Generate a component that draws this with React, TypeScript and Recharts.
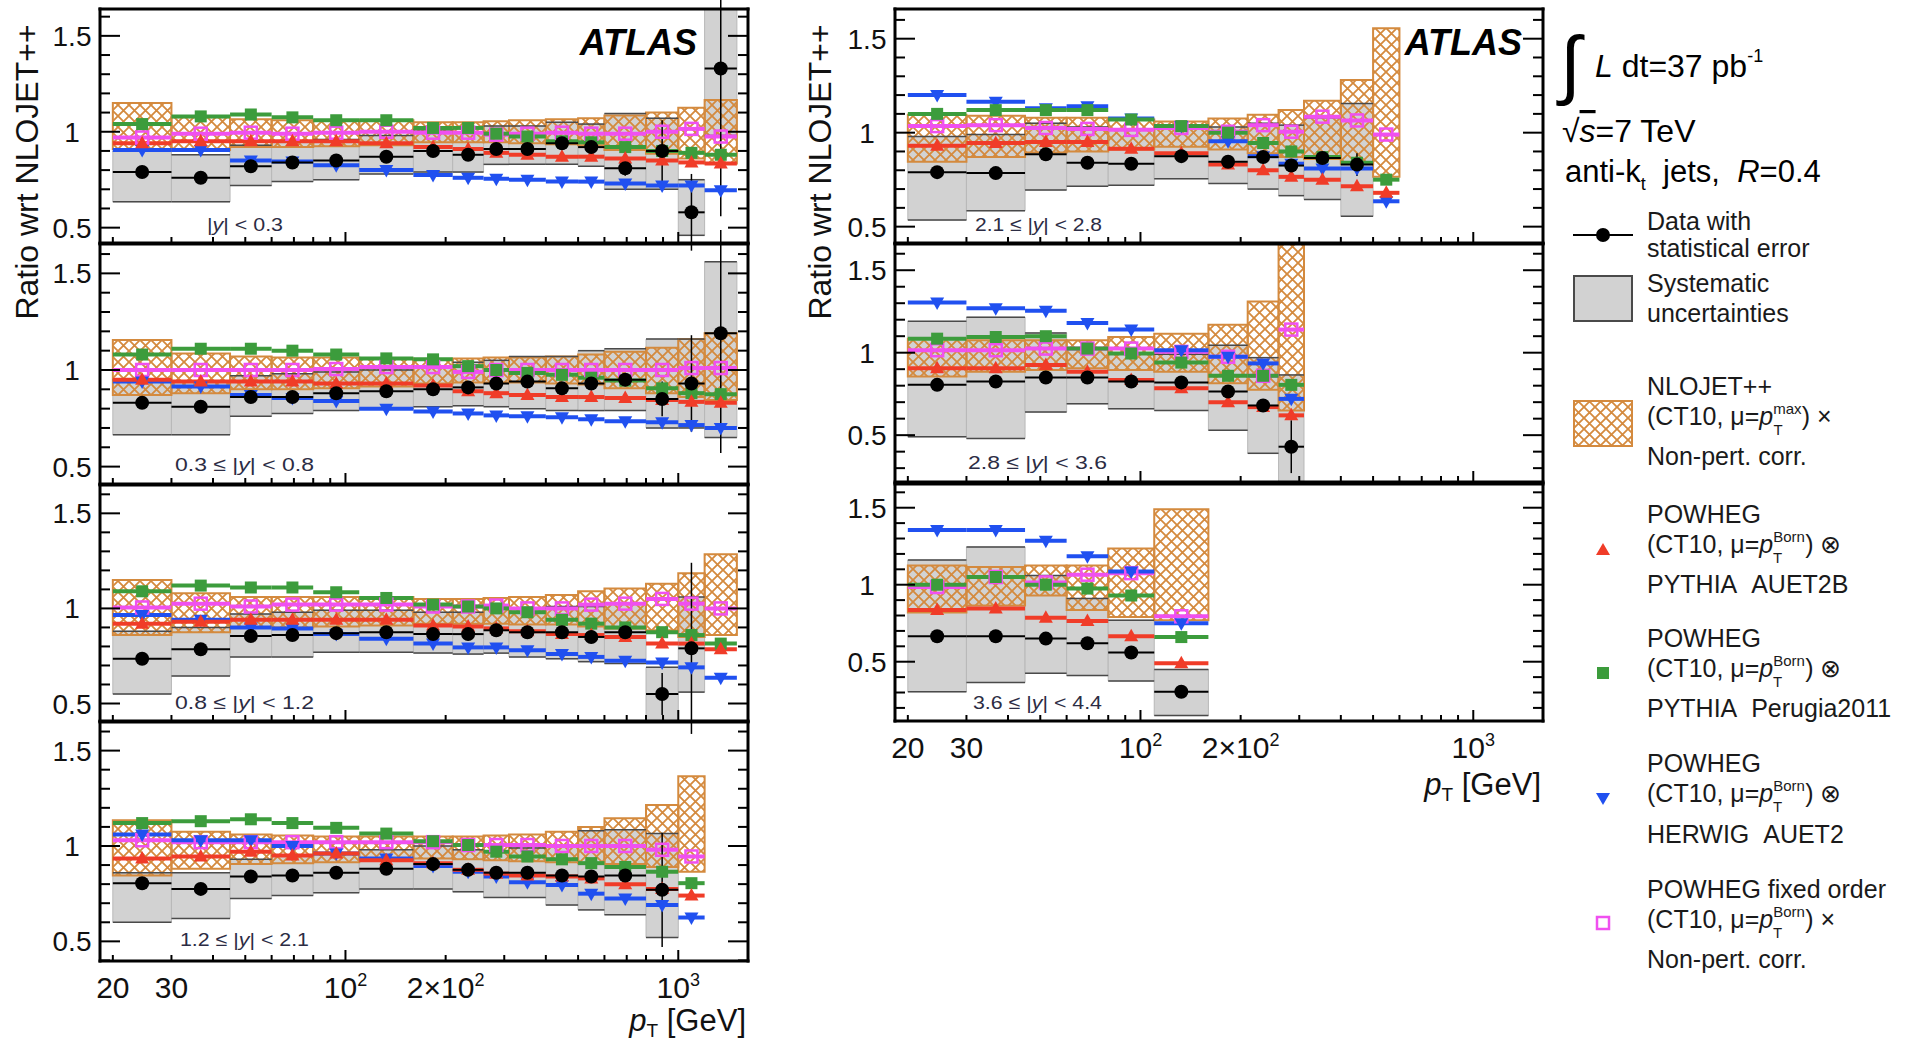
import React from 'react';
import { ComposedChart, Scatter, XAxis, YAxis, ErrorBar, ReferenceArea, ReferenceLine } from 'recharts';

const FONT = '"Liberation Sans", Arial, Helvetica, sans-serif';

// pT bin edges in GeV
const PT_EDGES = [20, 30, 45, 60, 80, 110, 160, 210, 260, 310, 400, 500, 600, 800, 1000, 1200, 1500];

const X_DOMAIN: [number, number] = [18.3, 1620];
const X_TICKS = [20, 30, 40, 50, 60, 70, 80, 90, 100, 200, 300, 400, 500, 600, 700, 800, 900, 1000];
const X_MAJOR = [100, 1000];
const X_TICK_LABELS: Record<number, [string, string]> = {
  20: ['20', ''],
  30: ['30', ''],
  100: ['10', '2'],
  200: ['2×10', '2'],
  1000: ['10', '3'],
};
const Y_TICKS = [0.2, 0.3, 0.4, 0.5, 0.6, 0.7, 0.8, 0.9, 1, 1.1, 1.2, 1.3, 1.4, 1.5, 1.6];

const RED = '#f03c28';
const GREEN = '#3c9c3c';
const BLUE = '#2050f0';
const MAGENTA = '#f050f0';
const ORANGE = '#d48a3e';
const SYS_FILL = '#d2d2d2';
const SYS_LINE = '#4a4a4a';
const SYS_SIDE = '#b8b8b8';

// |y| < 0.3
const Y03_DATA = [0.79, 0.76, 0.82, 0.84, 0.85, 0.87, 0.9, 0.88, 0.91, 0.91, 0.94, 0.92, 0.81, 0.9, 0.58, 1.33];
const Y03_STAT = [0.005, 0.005, 0.005, 0.005, 0.005, 0.005, 0.008, 0.01, 0.012, 0.015, 0.02, 0.03, 0.04, 0.16, 0.2, 0.77];
const Y03_SYS_LO = [0.635, 0.635, 0.72, 0.74, 0.75, 0.78, 0.79, 0.79, 0.83, 0.83, 0.83, 0.82, 0.7, 0.7, 0.46, 0.98];
const Y03_SYS_HI = [0.9, 0.88, 0.93, 0.95, 0.96, 0.98, 1.01, 1.0, 1.03, 1.03, 1.05, 1.04, 1.095, 1.07, 0.75, 1.8];
const Y03_NLO_LO = [0.91, 0.905, 0.92, 0.92, 0.925, 0.93, 0.945, 0.945, 0.945, 0.94, 0.935, 0.93, 0.905, 0.885, 0.86, 0.835];
const Y03_NLO_HI = [1.15, 1.075, 1.065, 1.06, 1.06, 1.06, 1.05, 1.05, 1.055, 1.06, 1.065, 1.07, 1.085, 1.1, 1.125, 1.165];
const Y03_PY_AUET2B = [0.94, 0.95, 0.95, 0.95, 0.95, 0.94, 0.92, 0.91, 0.89, 0.88, 0.87, 0.87, 0.86, 0.85, 0.84, 0.835];
const Y03_PY_P2011 = [1.04, 1.08, 1.09, 1.075, 1.06, 1.06, 1.02, 1.02, 0.99, 0.975, 0.95, 0.945, 0.92, 0.9, 0.89, 0.88];
const Y03_HW_AUET2 = [0.905, 0.905, 0.85, 0.845, 0.825, 0.8, 0.775, 0.76, 0.755, 0.75, 0.74, 0.74, 0.73, 0.72, 0.72, 0.695];
const Y03_FIXED = [0.97, 0.99, 0.995, 0.99, 0.995, 1.0, 0.995, 0.995, 0.985, 0.99, 0.995, 0.99, 0.99, 1.0, 1.015, 0.975];

// 0.3 <= |y| < 0.8
const Y08_DATA = [0.83, 0.81, 0.86, 0.86, 0.88, 0.89, 0.9, 0.91, 0.93, 0.94, 0.905, 0.93, 0.95, 0.85, 0.93, 1.19];
const Y08_STAT = [0.005, 0.005, 0.005, 0.005, 0.005, 0.005, 0.008, 0.01, 0.012, 0.015, 0.02, 0.025, 0.03, 0.09, 0.25, 0.62];
const Y08_SYS_LO = [0.665, 0.665, 0.76, 0.775, 0.79, 0.8, 0.81, 0.815, 0.81, 0.8, 0.79, 0.79, 0.79, 0.7, 0.7, 0.65];
const Y08_SYS_HI = [0.95, 0.94, 0.97, 0.98, 0.99, 1.0, 1.02, 1.04, 1.05, 1.07, 1.07, 1.1, 1.11, 1.16, 1.16, 1.56];
const Y08_NLO_LO = [0.87, 0.88, 0.9, 0.9, 0.905, 0.915, 0.93, 0.935, 0.935, 0.935, 0.93, 0.925, 0.905, 0.88, 0.86, 0.845];
const Y08_NLO_HI = [1.155, 1.085, 1.07, 1.065, 1.065, 1.06, 1.055, 1.06, 1.065, 1.065, 1.07, 1.08, 1.095, 1.115, 1.16, 1.19];
const Y08_PY_AUET2B = [0.95, 0.94, 0.94, 0.94, 0.93, 0.93, 0.92, 0.89, 0.88, 0.87, 0.86, 0.86, 0.855, 0.845, 0.835, 0.83];
const Y08_PY_P2011 = [1.08, 1.11, 1.11, 1.1, 1.08, 1.06, 1.055, 1.02, 1.0, 0.985, 0.975, 0.96, 0.945, 0.905, 0.88, 0.875];
const Y08_HW_AUET2 = [0.94, 0.915, 0.87, 0.855, 0.84, 0.8, 0.785, 0.775, 0.765, 0.76, 0.755, 0.745, 0.735, 0.73, 0.715, 0.7];
const Y08_FIXED = [1.0, 1.0, 1.0, 1.0, 1.005, 1.015, 1.015, 0.99, 1.0, 1.0, 1.0, 1.0, 1.0, 1.0, 1.01, 1.01];

// 0.8 <= |y| < 1.2
const Y12_DATA = [0.735, 0.785, 0.855, 0.86, 0.87, 0.875, 0.865, 0.865, 0.885, 0.875, 0.875, 0.85, 0.875, 0.55, 0.79];
const Y12_STAT = [0.005, 0.005, 0.005, 0.005, 0.005, 0.006, 0.008, 0.01, 0.012, 0.015, 0.02, 0.025, 0.03, 0.11, 0.45];
const Y12_SYS_LO = [0.55, 0.645, 0.745, 0.745, 0.77, 0.77, 0.765, 0.76, 0.765, 0.745, 0.735, 0.72, 0.71, 0.38, 0.56];
const Y12_SYS_HI = [0.88, 0.9, 0.97, 0.98, 0.99, 0.99, 0.98, 0.98, 1.0, 1.0, 1.01, 1.01, 1.03, 0.69, 1.06];
const Y12_NLO_LO = [0.86, 0.875, 0.9, 0.9, 0.905, 0.91, 0.92, 0.92, 0.92, 0.915, 0.915, 0.905, 0.895, 0.885, 0.85, 0.86];
const Y12_NLO_HI = [1.15, 1.08, 1.06, 1.06, 1.06, 1.06, 1.05, 1.05, 1.055, 1.06, 1.07, 1.09, 1.105, 1.13, 1.185, 1.285];
const Y12_PY_AUET2B = [0.92, 0.93, 0.94, 0.94, 0.94, 0.94, 0.91, 0.905, 0.895, 0.88, 0.865, 0.86, 0.85, 0.815, 0.815, 0.785];
const Y12_PY_P2011 = [1.09, 1.12, 1.11, 1.11, 1.085, 1.055, 1.02, 1.01, 1.0, 0.98, 0.94, 0.92, 0.9, 0.875, 0.86, 0.815];
const Y12_HW_AUET2 = [0.965, 0.94, 0.9, 0.895, 0.865, 0.84, 0.815, 0.795, 0.795, 0.78, 0.76, 0.745, 0.725, 0.715, 0.69, 0.635];
const Y12_FIXED = [1.005, 1.025, 1.01, 1.02, 1.02, 1.02, 1.01, 1.01, 1.015, 1.0, 1.0, 1.02, 1.025, 1.05, 1.025, 1.0];

// 1.2 <= |y| < 2.1
const Y21_DATA = [0.805, 0.775, 0.84, 0.845, 0.86, 0.88, 0.905, 0.875, 0.86, 0.86, 0.845, 0.84, 0.845, 0.77];
const Y21_STAT = [0.005, 0.005, 0.005, 0.005, 0.006, 0.006, 0.008, 0.01, 0.012, 0.015, 0.02, 0.025, 0.03, 0.3];
const Y21_SYS_LO = [0.6, 0.62, 0.725, 0.74, 0.755, 0.775, 0.775, 0.76, 0.73, 0.73, 0.69, 0.665, 0.64, 0.52];
const Y21_SYS_HI = [0.86, 0.86, 0.93, 0.95, 0.96, 0.98, 1.0, 0.98, 0.97, 0.99, 1.0, 1.08, 1.085, 1.065];
const Y21_NLO_LO = [0.845, 0.88, 0.905, 0.91, 0.915, 0.925, 0.935, 0.93, 0.925, 0.92, 0.915, 0.91, 0.905, 0.89, 0.865];
const Y21_NLO_HI = [1.135, 1.075, 1.06, 1.055, 1.05, 1.05, 1.05, 1.05, 1.055, 1.06, 1.075, 1.1, 1.145, 1.215, 1.365];
const Y21_PY_AUET2B = [0.935, 0.945, 0.97, 0.95, 0.96, 0.925, 0.91, 0.875, 0.855, 0.845, 0.84, 0.83, 0.8, 0.775, 0.74];
const Y21_PY_P2011 = [1.12, 1.13, 1.14, 1.12, 1.095, 1.065, 1.025, 1.005, 0.97, 0.945, 0.93, 0.91, 0.89, 0.865, 0.805];
const Y21_HW_AUET2 = [1.06, 1.03, 1.03, 1.0, 0.96, 0.935, 0.895, 0.865, 0.84, 0.81, 0.795, 0.75, 0.725, 0.69, 0.625];
const Y21_FIXED = [1.03, 1.02, 1.02, 1.02, 1.02, 1.02, 1.02, 1.005, 1.005, 1.005, 1.0, 1.0, 1.0, 0.98, 0.945];

// 2.1 <= |y| < 2.8
const Y28_DATA = [0.79, 0.785, 0.885, 0.84, 0.835, 0.875, 0.845, 0.87, 0.825, 0.865, 0.83];
const Y28_STAT = [0.005, 0.005, 0.006, 0.006, 0.008, 0.008, 0.01, 0.015, 0.02, 0.03, 0.06];
const Y28_SYS_LO = [0.535, 0.585, 0.695, 0.715, 0.72, 0.755, 0.73, 0.7, 0.665, 0.645, 0.555];
const Y28_SYS_HI = [0.98, 0.99, 1.05, 1.03, 1.02, 1.04, 1.03, 1.05, 1.04, 1.08, 1.155];
const Y28_NLO_LO = [0.845, 0.87, 0.895, 0.9, 0.91, 0.925, 0.91, 0.89, 0.87, 0.86, 0.835, 0.765];
const Y28_NLO_HI = [1.095, 1.09, 1.08, 1.08, 1.07, 1.06, 1.075, 1.095, 1.12, 1.17, 1.28, 1.555];
const Y28_PY_AUET2B = [0.93, 0.945, 0.95, 0.95, 0.915, 0.89, 0.83, 0.8, 0.765, 0.75, 0.715, 0.68];
const Y28_PY_P2011 = [1.1, 1.12, 1.12, 1.12, 1.07, 1.035, 1.0, 0.945, 0.9, 0.87, 0.84, 0.75];
const Y28_HW_AUET2 = [1.2, 1.165, 1.13, 1.14, 1.075, 1.035, 0.955, 0.875, 0.835, 0.81, 0.81, 0.635];
const Y28_FIXED = [1.035, 1.04, 1.025, 1.02, 1.015, 1.025, 1.005, 1.04, 1.005, 1.085, 1.065, 0.99];

// 2.8 <= |y| < 3.6
const Y36_DATA = [0.805, 0.825, 0.85, 0.85, 0.825, 0.82, 0.765, 0.68, 0.43];
const Y36_STAT = [0.008, 0.008, 0.01, 0.01, 0.012, 0.015, 0.025, 0.03, 0.16];
const Y36_SYS_LO = [0.49, 0.48, 0.64, 0.69, 0.66, 0.65, 0.53, 0.39, 0.15];
const Y36_SYS_HI = [1.19, 1.215, 1.12, 1.02, 1.0, 0.99, 1.045, 0.97, 0.865];
const Y36_NLO_LO = [0.855, 0.885, 0.895, 0.905, 0.895, 0.885, 0.815, 0.775, 0.65];
const Y36_NLO_HI = [1.085, 1.075, 1.075, 1.075, 1.095, 1.115, 1.17, 1.31, 1.75];
const Y36_PY_AUET2B = [0.905, 0.905, 0.925, 0.885, 0.835, 0.785, 0.7, 0.67, 0.62];
const Y36_PY_P2011 = [1.085, 1.095, 1.1, 1.025, 0.995, 0.94, 0.86, 0.86, 0.805];
const Y36_HW_AUET2 = [1.305, 1.27, 1.255, 1.18, 1.14, 1.015, 0.975, 0.935, 0.72];
const Y36_FIXED = [1.015, 1.015, 1.025, 1.025, 1.025, 1.005, 0.975, 0.86, 1.14];

// 3.6 <= |y| < 4.4
const Y44_DATA = [0.665, 0.665, 0.65, 0.62, 0.56, 0.305];
const Y44_STAT = [0.01, 0.01, 0.012, 0.015, 0.02, 0.04];
const Y44_SYS_LO = [0.305, 0.365, 0.425, 0.41, 0.375, 0.15];
const Y44_SYS_HI = [1.16, 1.245, 1.06, 0.91, 0.77, 0.45];
const Y44_NLO_LO = [0.82, 0.865, 0.93, 0.835, 0.79, 0.77];
const Y44_NLO_HI = [1.125, 1.115, 1.125, 1.125, 1.235, 1.49];
const Y44_PY_AUET2B = [0.835, 0.845, 0.785, 0.765, 0.665, 0.49];
const Y44_PY_P2011 = [1.0, 1.05, 1.0, 0.975, 0.93, 0.66];
const Y44_HW_AUET2 = [1.355, 1.355, 1.285, 1.185, 1.085, 0.75];
const Y44_FIXED = [0.985, 1.05, 1.015, 1.065, 1.075, 0.795];

type Panel = {
  id: string;
  left: number;
  top: number;
  height: number;
  domain: [number, number];
  data: number[];
  stat: number[];
  sysLo: number[];
  sysHi: number[];
  nloLo: number[];
  nloHi: number[];
  auet2b: number[];
  p2011: number[];
  herwig: number[];
  fixed: number[];
  xLabels: boolean;
};

const PANELS: Panel[] = [
  { id: 'y03', left: 100, top: 9, height: 234, domain: [0.42, 1.64], data: Y03_DATA, stat: Y03_STAT, sysLo: Y03_SYS_LO, sysHi: Y03_SYS_HI, nloLo: Y03_NLO_LO, nloHi: Y03_NLO_HI, auet2b: Y03_PY_AUET2B, p2011: Y03_PY_P2011, herwig: Y03_HW_AUET2, fixed: Y03_FIXED, xLabels: false },
  { id: 'y08', left: 100, top: 244, height: 240, domain: [0.41, 1.652], data: Y08_DATA, stat: Y08_STAT, sysLo: Y08_SYS_LO, sysHi: Y08_SYS_HI, nloLo: Y08_NLO_LO, nloHi: Y08_NLO_HI, auet2b: Y08_PY_AUET2B, p2011: Y08_PY_P2011, herwig: Y08_HW_AUET2, fixed: Y08_FIXED, xLabels: false },
  { id: 'y12', left: 100, top: 485, height: 236, domain: [0.408, 1.649], data: Y12_DATA, stat: Y12_STAT, sysLo: Y12_SYS_LO, sysHi: Y12_SYS_HI, nloLo: Y12_NLO_LO, nloHi: Y12_NLO_HI, auet2b: Y12_PY_AUET2B, p2011: Y12_PY_P2011, herwig: Y12_HW_AUET2, fixed: Y12_FIXED, xLabels: false },
  { id: 'y21', left: 100, top: 722, height: 239, domain: [0.397, 1.65], data: Y21_DATA, stat: Y21_STAT, sysLo: Y21_SYS_LO, sysHi: Y21_SYS_HI, nloLo: Y21_NLO_LO, nloHi: Y21_NLO_HI, auet2b: Y21_PY_AUET2B, p2011: Y21_PY_P2011, herwig: Y21_HW_AUET2, fixed: Y21_FIXED, xLabels: true },
  { id: 'y28', left: 895, top: 9, height: 234, domain: [0.413, 1.658], data: Y28_DATA, stat: Y28_STAT, sysLo: Y28_SYS_LO, sysHi: Y28_SYS_HI, nloLo: Y28_NLO_LO, nloHi: Y28_NLO_HI, auet2b: Y28_PY_AUET2B, p2011: Y28_PY_P2011, herwig: Y28_HW_AUET2, fixed: Y28_FIXED, xLabels: false },
  { id: 'y36', left: 895, top: 244, height: 238, domain: [0.216, 1.659], data: Y36_DATA, stat: Y36_STAT, sysLo: Y36_SYS_LO, sysHi: Y36_SYS_HI, nloLo: Y36_NLO_LO, nloHi: Y36_NLO_HI, auet2b: Y36_PY_AUET2B, p2011: Y36_PY_P2011, herwig: Y36_HW_AUET2, fixed: Y36_FIXED, xLabels: false },
  { id: 'y44', left: 895, top: 484, height: 237, domain: [0.115, 1.654], data: Y44_DATA, stat: Y44_STAT, sysLo: Y44_SYS_LO, sysHi: Y44_SYS_HI, nloLo: Y44_NLO_LO, nloHi: Y44_NLO_HI, auet2b: Y44_PY_AUET2B, p2011: Y44_PY_P2011, herwig: Y44_HW_AUET2, fixed: Y44_FIXED, xLabels: true },
];

const PLOT_W = 648;
const PAD_L = 70;
const PAD_R = 14;
const PAD_T = 14;

// one point per bin, placed at the log-centre, with the bin width as x error
function binPoints(values: number[], stat?: number[]) {
  return values.map((v, i) => {
    const lo = PT_EDGES[i];
    const hi = PT_EDGES[i + 1];
    const c = Math.sqrt(lo * hi);
    return { x: c, y: v, ex: [c - lo, hi - c], ey: stat ? stat[i] : 0 };
  });
}

const isMajorY = (v: number) => Math.abs(v * 2 - Math.round(v * 2)) < 1e-6;

const makeYTick = (side: 'left' | 'right') => (props: any) => {
  const { x, y, payload } = props;
  const v = payload.value as number;
  const major = isMajorY(v);
  const len = major ? 20 : 10;
  const dir = side === 'left' ? 1 : -1;
  return (
    <g>
      <line x1={x} x2={x + dir * len} y1={y} y2={y} stroke="#000" strokeWidth={2} />
      {side === 'left' && major && (
        <text x={x - 28} y={y + 10} textAnchor="middle" fontSize={28} fontFamily={FONT} fill="#111">
          {String(v)}
        </text>
      )}
    </g>
  );
};

const makeXTick = (side: 'top' | 'bottom', labels: boolean) => (props: any) => {
  const { x, y, payload } = props;
  const v = payload.value as number;
  const len = X_MAJOR.includes(v) ? 11 : 6;
  const dir = side === 'top' ? 1 : -1;
  const lab = side === 'bottom' && labels ? X_TICK_LABELS[v] : undefined;
  return (
    <g>
      <line x1={x} x2={x} y1={y} y2={y + dir * len} stroke="#000" strokeWidth={2} />
      {lab && (
        <text x={x} y={y + 37} textAnchor="middle" fontSize={30} fontFamily={FONT} fill="#111">
          {lab[0]}
          {lab[1] && <tspan fontSize={18} dy={-12}>{lab[1]}</tspan>}
        </text>
      )}
    </g>
  );
};

const dataDot = (p: any) => <circle cx={p.cx} cy={p.cy} r={7} fill="#000" />;
const greenSquare = (p: any) => <rect x={p.cx - 6} y={p.cy - 6} width={12} height={12} fill={GREEN} />;
const redTriangle = (p: any) => (
  <polygon points={`${p.cx},${p.cy - 7.5} ${p.cx + 7},${p.cy + 5} ${p.cx - 7},${p.cy + 5}`} fill={RED} />
);
const blueTriangle = (p: any) => (
  <polygon points={`${p.cx},${p.cy + 7.5} ${p.cx + 7},${p.cy - 5} ${p.cx - 7},${p.cy - 5}`} fill={BLUE} />
);
const openSquare = (p: any) => (
  <rect x={p.cx - 6} y={p.cy - 6} width={12} height={12} fill="none" stroke={MAGENTA} strokeWidth={2.5} />
);

const axisLine = { stroke: '#000', strokeWidth: 3, strokeLinecap: 'square' as const };

function HatchPattern({ id }: { id: string }) {
  return (
    <pattern id={id} patternUnits="userSpaceOnUse" width={11} height={11}>
      <path d="M-2,-2 L13,13 M13,-2 L-2,13" stroke={ORANGE} strokeWidth={1.8} />
    </pattern>
  );
}

function RatioPanel({ p }: { p: Panel }) {
  const padB = p.xLabels ? 60 : PAD_T;
  const width = PAD_L + PLOT_W + PAD_R;
  const height = PAD_T + p.height + padB;
  const yTicks = Y_TICKS.filter((t) => t >= p.domain[0] && t <= p.domain[1]);
  const hatchId = `hatch-${p.id}`;
  const modelLine = (color: string) => (
    <ErrorBar dataKey="ex" direction="x" width={0} stroke={color} strokeWidth={4} isAnimationActive={false} />
  );
  const sysEdge = (i: number, y: number, key: string) => (
    <ReferenceLine
      key={key} xAxisId="b" yAxisId="l" ifOverflow="hidden"
      segment={[{ x: PT_EDGES[i], y }, { x: PT_EDGES[i + 1], y }]}
      stroke={SYS_LINE} strokeWidth={1.5}
    />
  );
  return (
    <div style={{ position: 'absolute', left: p.left - PAD_L, top: p.top - PAD_T }}>
      <ComposedChart width={width} height={height} margin={{ top: 0, right: 0, bottom: 0, left: 0 }}>
        <defs>
          <HatchPattern id={hatchId} />
        </defs>
        <XAxis
          xAxisId="b" orientation="bottom" type="number" dataKey="x" scale="log"
          domain={X_DOMAIN} allowDataOverflow ticks={X_TICKS} interval={0}
          height={padB} tickSize={0} tickMargin={0} tickLine={false} axisLine={axisLine}
          tick={makeXTick('bottom', p.xLabels)}
        />
        <XAxis
          xAxisId="t" orientation="top" type="number" scale="log"
          domain={X_DOMAIN} allowDataOverflow ticks={X_TICKS} interval={0}
          height={PAD_T} tickSize={0} tickMargin={0} tickLine={false} axisLine={axisLine}
          tick={makeXTick('top', false)}
        />
        <YAxis
          yAxisId="l" orientation="left" type="number" dataKey="y"
          domain={p.domain} allowDataOverflow ticks={yTicks} interval={0}
          width={PAD_L} tickSize={0} tickMargin={0} tickLine={false} axisLine={axisLine}
          tick={makeYTick('left')}
        />
        <YAxis
          yAxisId="r" orientation="right" type="number"
          domain={p.domain} allowDataOverflow ticks={yTicks} interval={0}
          width={PAD_R} tickSize={0} tickMargin={0} tickLine={false} axisLine={axisLine}
          tick={makeYTick('right')}
        />

        {/* systematic uncertainty boxes: light sides, dark top and bottom */}
        {p.sysLo.map((lo, i) => (
          <ReferenceArea
            key={`sys-${i}`} xAxisId="b" yAxisId="l" ifOverflow="hidden"
            x1={PT_EDGES[i]} x2={PT_EDGES[i + 1]} y1={lo} y2={p.sysHi[i]}
            fill={SYS_FILL} fillOpacity={1} stroke={SYS_SIDE} strokeWidth={1}
          />
        ))}
        {p.sysLo.map((lo, i) => sysEdge(i, lo, `sys-lo-${i}`))}
        {p.sysHi.map((hi, i) => sysEdge(i, hi, `sys-hi-${i}`))}

        {/* NLOJET++ theory band */}
        {p.nloLo.map((lo, i) => (
          <ReferenceArea
            key={`nlo-${i}`} xAxisId="b" yAxisId="l" ifOverflow="hidden"
            x1={PT_EDGES[i]} x2={PT_EDGES[i + 1]} y1={lo} y2={p.nloHi[i]}
            fill={`url(#${hatchId})`} fillOpacity={1} stroke={ORANGE} strokeWidth={2}
          />
        ))}

        <Scatter xAxisId="b" yAxisId="l" data={binPoints(p.fixed)} shape={openSquare} isAnimationActive={false}>
          {modelLine(MAGENTA)}
        </Scatter>
        <Scatter xAxisId="b" yAxisId="l" data={binPoints(p.herwig)} shape={blueTriangle} isAnimationActive={false}>
          {modelLine(BLUE)}
        </Scatter>
        <Scatter xAxisId="b" yAxisId="l" data={binPoints(p.p2011)} shape={greenSquare} isAnimationActive={false}>
          {modelLine(GREEN)}
        </Scatter>
        <Scatter xAxisId="b" yAxisId="l" data={binPoints(p.auet2b)} shape={redTriangle} isAnimationActive={false}>
          {modelLine(RED)}
        </Scatter>
        <Scatter xAxisId="b" yAxisId="l" data={binPoints(p.data, p.stat)} shape={dataDot} isAnimationActive={false}>
          <ErrorBar dataKey="ex" direction="x" width={0} stroke="#000" strokeWidth={2} isAnimationActive={false} />
          <ErrorBar dataKey="ey" direction="y" width={0} stroke="#000" strokeWidth={1.5} isAnimationActive={false} />
        </Scatter>
      </ComposedChart>
    </div>
  );
}

const REGION_LABELS = [
  { x: 207, y: 231, w: 76, pre: '', post: ' < 0.3' },
  { x: 175, y: 471, w: 139, pre: '0.3 ≤ ', post: ' < 0.8' },
  { x: 175, y: 709, w: 139, pre: '0.8 ≤ ', post: ' < 1.2' },
  { x: 180, y: 946, w: 129, pre: '1.2 ≤ ', post: ' < 2.1' },
  { x: 975, y: 231, w: 127, pre: '2.1 ≤ ', post: ' < 2.8' },
  { x: 968, y: 469, w: 139, pre: '2.8 ≤ ', post: ' < 3.6' },
  { x: 973, y: 709, w: 129, pre: '3.6 ≤ ', post: ' < 4.4' },
];

const LEG_X = 1647;
const LEG_MARK = 1603;
const TXT = '#1a1a1a';
const SP2 = '\u00a0\u00a0';

function ScaleLine({ y, sup, supW, tail }: { y: number; sup: string; supW: number; tail: string }) {
  return (
    <text x={LEG_X} y={y} fontSize={25} fill={TXT}>
      {'(CT10, μ='}
      <tspan fontStyle="italic">p</tspan>
      <tspan fontSize={15} dy={-11}>{sup}</tspan>
      <tspan fontSize={15} dx={-supW} dy={21}>T</tspan>
      <tspan dx={supW - 9} dy={-10}>{`) ${tail}`}</tspan>
    </text>
  );
}

function PtTitle({ x, y }: { x: number; y: number }) {
  return (
    <text x={x} y={y} textAnchor="end" fontSize={31} fill="#111">
      <tspan fontStyle="italic">p</tspan>
      <tspan fontSize={19} dy={6}>T</tspan>
      <tspan dy={-6}>{' [GeV]'}</tspan>
    </text>
  );
}

function Overlay() {
  return (
    <svg
      width={1913} height={1044} fontFamily={FONT}
      style={{ position: 'absolute', left: 0, top: 0, pointerEvents: 'none' }}
    >
      <defs>
        <HatchPattern id="hatch-legend" />
      </defs>

      <text transform="translate(38,172) rotate(-90)" textAnchor="middle" fontSize={32} fill="#111">
        Ratio wrt NLOJET++
      </text>
      <text transform="translate(831,172) rotate(-90)" textAnchor="middle" fontSize={32} fill="#111">
        Ratio wrt NLOJET++
      </text>

      <text x={697} y={55} textAnchor="end" fontSize={36} fontWeight="bold" fontStyle="italic" fill="#000">ATLAS</text>
      <text x={1522} y={55} textAnchor="end" fontSize={36} fontWeight="bold" fontStyle="italic" fill="#000">ATLAS</text>

      {REGION_LABELS.map((r, i) => (
        <text key={i} x={r.x} y={r.y} fontSize={19} fill="#2c2c44" textLength={r.w} lengthAdjust="spacingAndGlyphs">
          {r.pre}|<tspan fontStyle="italic">y</tspan>|{r.post}
        </text>
      ))}

      <PtTitle x={746} y={1031} />
      <PtTitle x={1541} y={795} />

      {/* run conditions */}
      <text x={1560} y={90} fontSize={76} fill="#000">∫</text>
      <text x={1595} y={77} fontSize={32} fill="#000">
        <tspan fontStyle="italic">L</tspan>
        <tspan>{' dt=37 pb'}</tspan>
        <tspan fontSize={18} dy={-15}>-1</tspan>
      </text>
      <text x={1562} y={142} fontSize={32} fill="#000">
        √<tspan fontStyle="italic" textDecoration="overline">s</tspan>=7 TeV
      </text>
      <text x={1565} y={182} fontSize={31} fill="#000">
        anti-k<tspan fontSize={18} dy={8}>t</tspan>
        <tspan dy={-8}>{`${SP2}jets,${SP2}`}</tspan>
        <tspan fontStyle="italic">R</tspan>=0.4
      </text>

      {/* legend */}
      <line x1={1573} x2={1633} y1={235} y2={235} stroke="#000" strokeWidth={2} />
      <circle cx={LEG_MARK} cy={235} r={7} fill="#000" />
      <text x={LEG_X} y={230} fontSize={25} fill={TXT}>Data with</text>
      <text x={LEG_X} y={257} fontSize={25} fill={TXT}>statistical error</text>

      <rect x={1574} y={276} width={58} height={45} fill={SYS_FILL} stroke={SYS_LINE} strokeWidth={2} />
      <text x={LEG_X} y={292} fontSize={25} fill={TXT}>Systematic</text>
      <text x={LEG_X} y={322} fontSize={25} fill={TXT}>uncertainties</text>

      <rect x={1574} y={401} width={58} height={45} fill="url(#hatch-legend)" stroke={ORANGE} strokeWidth={2} />
      <text x={LEG_X} y={395} fontSize={25} fill={TXT}>NLOJET++</text>
      <ScaleLine y={425} sup="max" supW={28} tail="×" />
      <text x={LEG_X} y={465} fontSize={25} fill={TXT}>Non-pert. corr.</text>

      <polygon points={`${LEG_MARK},${543} ${LEG_MARK + 7},${555} ${LEG_MARK - 7},${555}`} fill={RED} />
      <text x={LEG_X} y={523} fontSize={25} fill={TXT}>POWHEG</text>
      <ScaleLine y={553} sup="Born" supW={32} tail="⊗" />
      <text x={LEG_X} y={593} fontSize={25} fill={TXT}>{`PYTHIA${SP2}AUET2B`}</text>

      <rect x={LEG_MARK - 6} y={667} width={12} height={12} fill={GREEN} />
      <text x={LEG_X} y={647} fontSize={25} fill={TXT}>POWHEG</text>
      <ScaleLine y={677} sup="Born" supW={32} tail="⊗" />
      <text x={LEG_X} y={717} fontSize={25} fill={TXT}>{`PYTHIA${SP2}Perugia2011`}</text>

      <polygon points={`${LEG_MARK},${805} ${LEG_MARK + 7},${793} ${LEG_MARK - 7},${793}`} fill={BLUE} />
      <text x={LEG_X} y={772} fontSize={25} fill={TXT}>POWHEG</text>
      <ScaleLine y={802} sup="Born" supW={32} tail="⊗" />
      <text x={LEG_X} y={843} fontSize={25} fill={TXT}>{`HERWIG${SP2}AUET2`}</text>

      <rect x={LEG_MARK - 6} y={917} width={12} height={12} fill="none" stroke={MAGENTA} strokeWidth={2.5} />
      <text x={LEG_X} y={898} fontSize={25} fill={TXT}>POWHEG fixed order</text>
      <ScaleLine y={928} sup="Born" supW={32} tail="×" />
      <text x={LEG_X} y={968} fontSize={25} fill={TXT}>Non-pert. corr.</text>
    </svg>
  );
}

export default function App() {
  return (
    <div style={{ position: 'absolute', left: 0, top: 0, width: 1913, height: 1044, background: '#fff', fontFamily: FONT }}>
      {PANELS.map((p) => (
        <RatioPanel key={p.id} p={p} />
      ))}
      <Overlay />
    </div>
  );
}
